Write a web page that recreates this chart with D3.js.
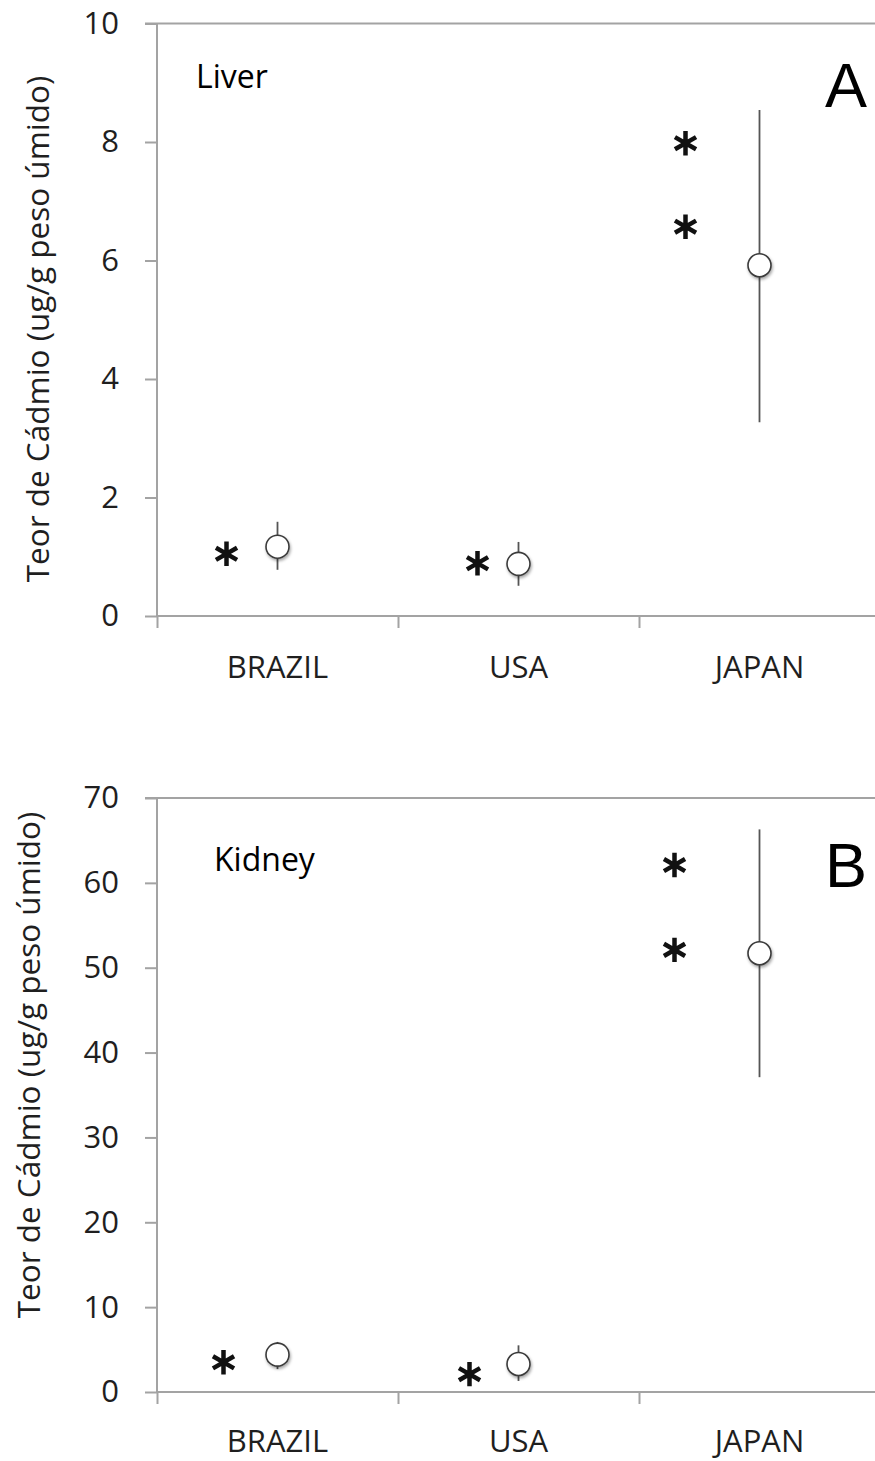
<!DOCTYPE html>
<html>
<head>
<meta charset="utf-8">
<script src="https://cdn.jsdelivr.net/npm/d3@7"></script>
<style>
  body { margin: 0; background: #fff; }
  svg { display: block; font-family: "Open Sans", sans-serif; }
</style>
</head>
<body>
<svg id="chart"></svg>
<script>
// categories shared by both panels
const categories = ["BRAZIL", "USA", "JAPAN"];

// liver (panel A)
const liverMean = [1.17, 0.88, 5.92];
const liverLow = [0.78, 0.51, 3.27];
const liverHigh = [1.59, 1.25, 8.54];
const liverStars = [[1.05], [0.89], [7.98, 6.57]];
const liverTicks = [0, 2, 4, 6, 8, 10];

// kidney (panel B)
const kidneyMean = [4.4, 3.3, 51.7];
const kidneyLow = [2.7, 1.3, 37.1];
const kidneyHigh = [5.9, 5.5, 66.3];
const kidneyStars = [[3.5], [2.1], [62.1, 52.1]];
const kidneyTicks = [0, 10, 20, 30, 40, 50, 60, 70];

const yTitle = "Teor de Cádmio (ug/g peso úmido)";

const width = 875, height = 1461;
const svg = d3.select("#chart").attr("width", width).attr("height", height);

const defs = svg.append("defs");
defs.append("filter").attr("id", "shadow")
  .attr("x", "-50%").attr("y", "-50%").attr("width", "200%").attr("height", "200%")
  .append("feDropShadow")
  .attr("dx", 1).attr("dy", 2).attr("stdDeviation", 1.5)
  .attr("flood-color", "#000").attr("flood-opacity", 0.35);

// horizontal offset of the asterisks left of each point (layout only)
const starShift = [[-51], [-41], [-74, -74]];
const starShiftB = [[-54], [-49], [-85, -85]];

const panels = [
  { mean: liverMean, low: liverLow, high: liverHigh, stars: liverStars, ticks: liverTicks,
    top: 23.5, bottom: 616, name: "Liver", nameX: 196, nameY: 88, letter: "A", letterY: 107,
    titleX: 38, titleY: 329, labelDy: 62, shift: starShift },
  { mean: kidneyMean, low: kidneyLow, high: kidneyHigh, stars: kidneyStars, ticks: kidneyTicks,
    top: 798, bottom: 1392, name: "Kidney", nameX: 214, nameY: 871, letter: "B", letterY: 887,
    titleX: 29, titleY: 1065, labelDy: 60, shift: starShiftB }
];

const left = 157, bandW = 241;
const x = d3.scaleBand().domain(categories).range([left, left + bandW * 3]).padding(0);
const xEdge = d3.scaleLinear().domain([0, 3]).range([left, left + bandW * 3]);

const axisColor = "#a3a3a3";
const textColor = "#1f1f1f";
const symbolStar = d3.symbol().type(d3.symbolAsterisk).size(420);

panels.forEach(p => {
  const ticks = p.ticks;
  const y = d3.scaleLinear().domain([ticks[0], ticks[ticks.length - 1]]).range([p.bottom, p.top]);
  const g = svg.append("g");

  // top border
  g.append("line")
    .attr("x1", left - 12).attr("x2", width + 10)
    .attr("y1", y(ticks[ticks.length - 1])).attr("y2", y(ticks[ticks.length - 1]))
    .attr("stroke", axisColor).attr("stroke-width", 2);

  // y axis
  const yAxis = g.append("g")
    .attr("transform", `translate(${left},0)`)
    .call(d3.axisLeft(y).tickValues(ticks).tickSize(12).tickPadding(26));
  yAxis.selectAll("line, path").attr("stroke", axisColor).attr("stroke-width", 2);
  yAxis.select(".domain").attr("d", `M0,${p.bottom}V${p.top}`);
  yAxis.selectAll("text")
    .attr("font-family", "Open Sans").attr("font-size", 31).attr("fill", textColor);

  // x axis (ticks between categories)
  const xAxis = g.append("g")
    .attr("transform", `translate(0,${p.bottom})`)
    .call(d3.axisBottom(xEdge).tickValues([0, 1, 2, 3]).tickSize(12).tickFormat(""));
  xAxis.selectAll("line").attr("stroke", axisColor).attr("stroke-width", 2);
  xAxis.select(".domain").attr("stroke", axisColor).attr("stroke-width", 2)
    .attr("d", `M${left},0H${width + 10}`);

  g.selectAll(".xlabel")
    .data(categories)
    .enter()
    .append("text")
    .attr("x", d => x(d) + x.bandwidth() / 2)
    .attr("y", p.bottom + p.labelDy)
    .attr("text-anchor", "middle")
    .attr("font-size", 31)
    .attr("fill", textColor)
    .text(d => d);

  // y title
  g.append("text")
    .attr("transform", `translate(${p.titleX},${p.titleY}) rotate(-90)`)
    .attr("text-anchor", "middle")
    .attr("dy", "0.35em")
    .attr("font-size", 31.5)
    .attr("fill", textColor)
    .text(yTitle);

  // panel name and letter
  g.append("text")
    .attr("x", p.nameX).attr("y", p.nameY)
    .attr("font-size", 32).attr("fill", "#000")
    .text(p.name);
  g.append("text")
    .attr("x", 846).attr("y", p.letterY)
    .attr("text-anchor", "middle")
    .attr("font-family", "Liberation Sans")
    .attr("font-size", 63).attr("fill", "#000")
    .text(p.letter);

  const cx = i => x(categories[i]) + x.bandwidth() / 2;

  // error bars
  g.selectAll(".err")
    .data(categories)
    .enter()
    .append("line")
    .attr("x1", (d, i) => cx(i)).attr("x2", (d, i) => cx(i))
    .attr("y1", (d, i) => y(p.high[i]))
    .attr("y2", (d, i) => y(p.low[i]))
    .attr("stroke", "#555").attr("stroke-width", 1.8);

  // means
  g.selectAll(".pt")
    .data(categories)
    .enter()
    .append("circle")
    .attr("cx", (d, i) => cx(i))
    .attr("cy", (d, i) => y(p.mean[i]))
    .attr("r", 11.5)
    .attr("fill", "#fff")
    .attr("stroke", "#3a3a3a")
    .attr("stroke-width", 1.6)
    .attr("filter", "url(#shadow)");

  // significance asterisks
  const stars = [];
  p.stars.forEach((arr, i) => arr.forEach((v, j) => stars.push({ i, v, dx: p.shift[i][j] })));
  g.selectAll(".star")
    .data(stars)
    .enter()
    .append("path")
    .attr("d", symbolStar)
    .attr("transform", d => `translate(${cx(d.i) + d.dx},${y(d.v)})`)
    .attr("stroke", "#111")
    .attr("stroke-width", 4.5)
    .attr("fill", "none");
});
</script>
</body>
</html>
